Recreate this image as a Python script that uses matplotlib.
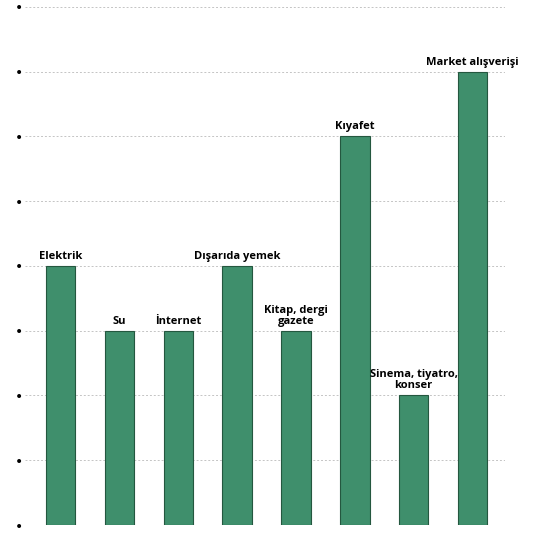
import matplotlib.pyplot as plt
import numpy as np

# harcama kalemleri
categories = ['Elektrik', 'Su', 'İnternet', 'Dışarıda yemek', 'Kitap, dergi\ngazete',
              'Kıyafet', 'Sinema, tiyatro,\nkonser', 'Market alışverişi']
values = [4, 3, 3, 4, 3, 6, 2, 7]
levels = list(range(0, 9))

fig = plt.figure(figsize=(5.4, 5.33), dpi=100)
ax = fig.add_axes([0.046, 0.015, 0.89, 0.972])

x = np.arange(len(categories))
ax.bar(x, values, width=0.5, color='#3f8f6c', edgecolor='#24573f', linewidth=0.8, zorder=3)

for xi, v, lab in zip(x, values, categories):
    ax.annotate(lab, (xi, v), xytext=(0, 3), textcoords='offset points',
                ha='center', va='bottom', fontsize=8, fontweight='bold',
                family='Open Sans', linespacing=1.0, zorder=4)

ax.set_xlim(-0.61, 7.56)
ax.set_ylim(0, 8)
ax.set_yticks(levels)
ax.set_yticklabels(['•'] * len(levels), fontsize=10)
ax.tick_params(axis='y', length=0, pad=1)
ax.set_xticks([])
ax.grid(axis='y', color='#c4c4c4', linestyle=(0, (2, 2)), linewidth=0.7, zorder=0)
for s in ['top', 'right', 'bottom', 'left']:
    ax.spines[s].set_visible(False)

plt.savefig('out.png')
